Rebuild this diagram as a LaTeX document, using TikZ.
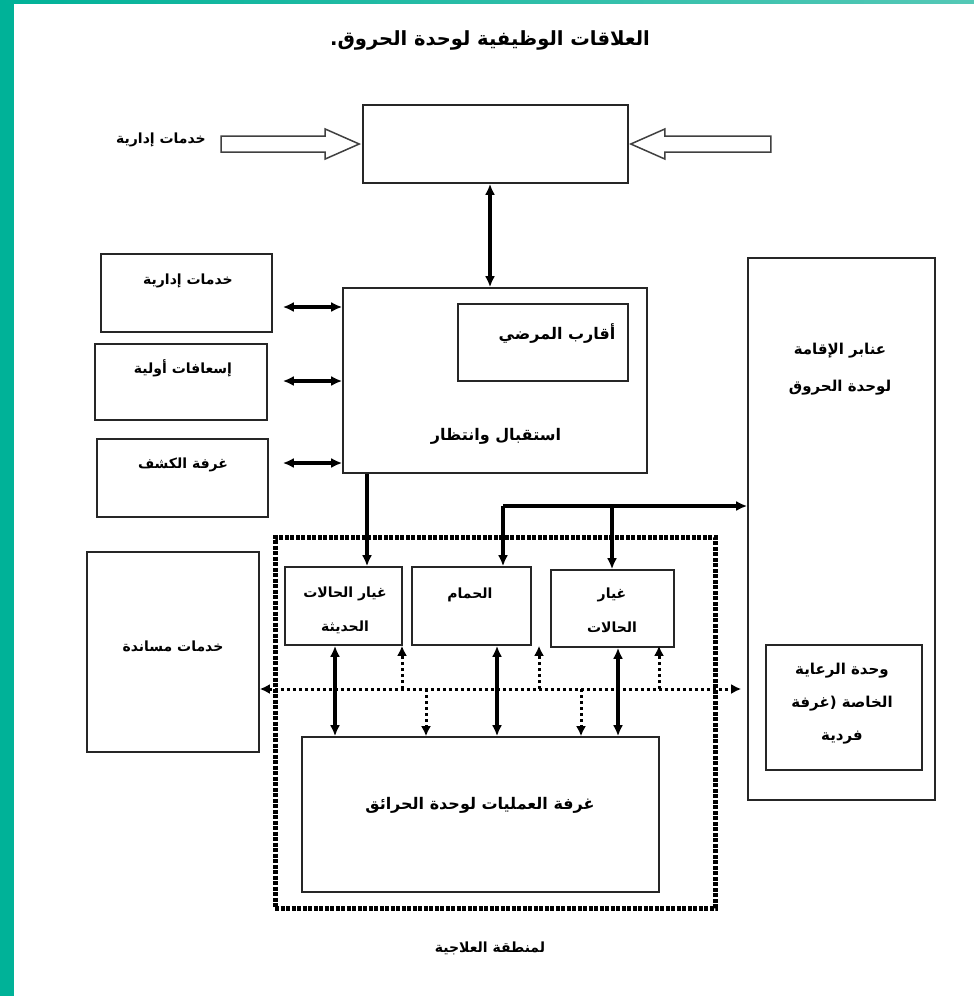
\documentclass[tikz,border=0pt]{standalone}
\usepackage{fontspec}
\usetikzlibrary{arrows.meta,calc,positioning,fit}
\TeXXeTstate=1
\newfontfamily\arabicfont[Script=Arabic]{DejaVu Sans}
\definecolor{framegreen}{RGB}{0,178,152}
\definecolor{framegreenlt}{RGB}{84,200,182}
\newcommand{\ar}[1]{{\arabicfont\bfseries\beginR #1\endR}}
\newcommand{\roombox}[5]{%
  \node[room,fit={(#2,#3) (#4,#5)}] (#1) {};%
}

\begin{document}
\begin{tikzpicture}[x=1pt,y=-1pt,
  room/.style={draw=black!85,line width=1.6pt,inner sep=0pt},
  lbl/.style={font=\fontsize{14}{34}\selectfont,align=center,inner sep=0pt},
  midlbl/.style={font=\fontsize{15}{37}\selectfont,align=center,inner sep=0pt},
  biglbl/.style={font=\fontsize{16}{34}\selectfont,align=center,inner sep=0pt},
  thk/.style={line width=3.2pt,-{Latex[length=11pt,width=10pt]}},
  dbl/.style={line width=3.2pt,{Latex[length=11pt,width=10pt]}-{Latex[length=11pt,width=10pt]}},
  dots/.style={line width=3pt,dash pattern=on 3pt off 3pt,-{Latex[length=10pt,width=10pt]}},
  zone/.style={draw,line width=5pt,dash pattern=on 4pt off 1.5pt,inner sep=0pt},
  hollow/.style={draw=black!75,line width=1.5pt,fill=white}]
  \useasboundingbox (0,0) rectangle (974,996);
  \fill[white] (0,0) rectangle (974,996);
  \fill[framegreen] (0,0) rectangle (14,996);
  \shade[left color=framegreen,right color=framegreenlt] (0,0) rectangle (974,3);

  \node[font=\fontsize{19.5}{22}\selectfont] (title) at (490,40) {\ar{العلاقات الوظيفية لوحدة الحروق.}};

  \roombox{top}{363}{105}{628}{183}
  \draw[hollow] ($(top.west)+(-3,0)$) -- ++(-34,-15) -- ++(0,7) -- ++(-104,0) -- ++(0,16) -- ++(104,0) -- ++(0,7) -- cycle;
  \draw[hollow] ($(top.east)+(2,0)$) -- ++(34,-15) -- ++(0,7) -- ++(106,0) -- ++(0,16) -- ++(-106,0) -- ++(0,7) -- cycle;
  \node[lbl] (admarrow) at (161,140) {\ar{خدمات إدارية}};

  \roombox{recep}{343}{288}{647}{473}
  \roombox{kin}{458}{304}{628}{381}
  \node[biglbl] (kinlbl) at (557,334) {\ar{أقارب المرضي}};
  \node[biglbl] (receplbl) at (496,436) {\ar{استقبال وانتظار}};
  \draw[dbl] (top.south -| 490,0) -- (recep.north -| 490,0);

  \roombox{adm}{101}{254}{272}{332}
  \roombox{aid}{95}{344}{267}{420}
  \roombox{exam}{97}{439}{268}{517}
  \node[lbl] (admlbl) at (188,281) {\ar{خدمات إدارية}};
  \node[lbl] (aidlbl) at (183,368) {\ar{إسعافات أولية}};
  \node[lbl] (examlbl) at (183,465) {\ar{غرفة الكشف}};
  \draw[dbl,shorten >=10pt] (recep.west |- 0,307) -- (adm.east |- 0,307);
  \draw[dbl,shorten >=15pt] (recep.west |- 0,381) -- (aid.east |- 0,381);
  \draw[dbl,shorten >=14pt] (recep.west |- 0,463) -- (exam.east |- 0,463);

  \roombox{wards}{748}{258}{935}{800}
  \node[midlbl] (wardslbl) at (840,369) {\ar{عنابر الإقامة}\\\ar{لوحدة الحروق}};
  \roombox{icu}{766}{645}{922}{770}
  \node[midlbl,font=\fontsize{15}{33}\selectfont] (iculbl) at (842,704) {\ar{وحدة الرعاية}\\\ar{الخاصة (غرفة}\\\ar{فردية}};

  \roombox{support}{87}{552}{259}{752}
  \node[lbl] (supportlbl) at (173,646) {\ar{خدمات مساندة}};

  \node[zone,fit={(275,537) (715,908)}] (zone) {};
  \node[lbl] (zonelbl) at (490,948) {\ar{لمنطقة العلاجية}};

  \roombox{newdr}{285}{567}{402}{645}
  \roombox{bath}{412}{567}{531}{645}
  \roombox{dress}{551}{570}{674}{647}
  \node[lbl] (newdrlbl) at (345,610) {\ar{غيار الحالات}\\\ar{الحديثة}};
  \node[lbl] (bathlbl) at (470,595) {\ar{الحمام}};
  \node[lbl] (dresslbl) at (612,610) {\ar{غيار}\\\ar{الحالات}};

  \roombox{oper}{302}{737}{659}{892}
  \node[biglbl] (operlbl) at (480,805) {\ar{غرفة العمليات لوحدة الحرائق}};

  \draw[thk] (recep.south -| 367,0) -- (newdr.north -| 367,0);
  \coordinate (bathjoin) at (503,506);
  \coordinate (dressjoin) at (612,506);
  \draw[thk] (bathjoin) -- (wards.west |- bathjoin);
  \draw[thk] (bathjoin) -- (bath.north -| bathjoin);
  \draw[thk] (dressjoin) -- (dress.north -| dressjoin);

  \draw[dots,{Latex[length=10pt,width=10pt]}-{Latex[length=10pt,width=10pt]},shorten >=6pt] (support.east |- 0,689) -- (wards.west |- 0,689);
  \foreach \x in {402,539,659}
    \draw[dots] (\x,689) -- (newdr.south -| \x,0);
  \foreach \x in {426,581}
    \draw[dots] (\x,689) -- (oper.north -| \x,0);
  \draw[dbl] (newdr.south -| 335,0) -- (oper.north -| 335,0);
  \draw[dbl] (bath.south -| 497,0) -- (oper.north -| 497,0);
  \draw[dbl] (dress.south -| 618,0) -- (oper.north -| 618,0);
\end{tikzpicture}
\end{document}
